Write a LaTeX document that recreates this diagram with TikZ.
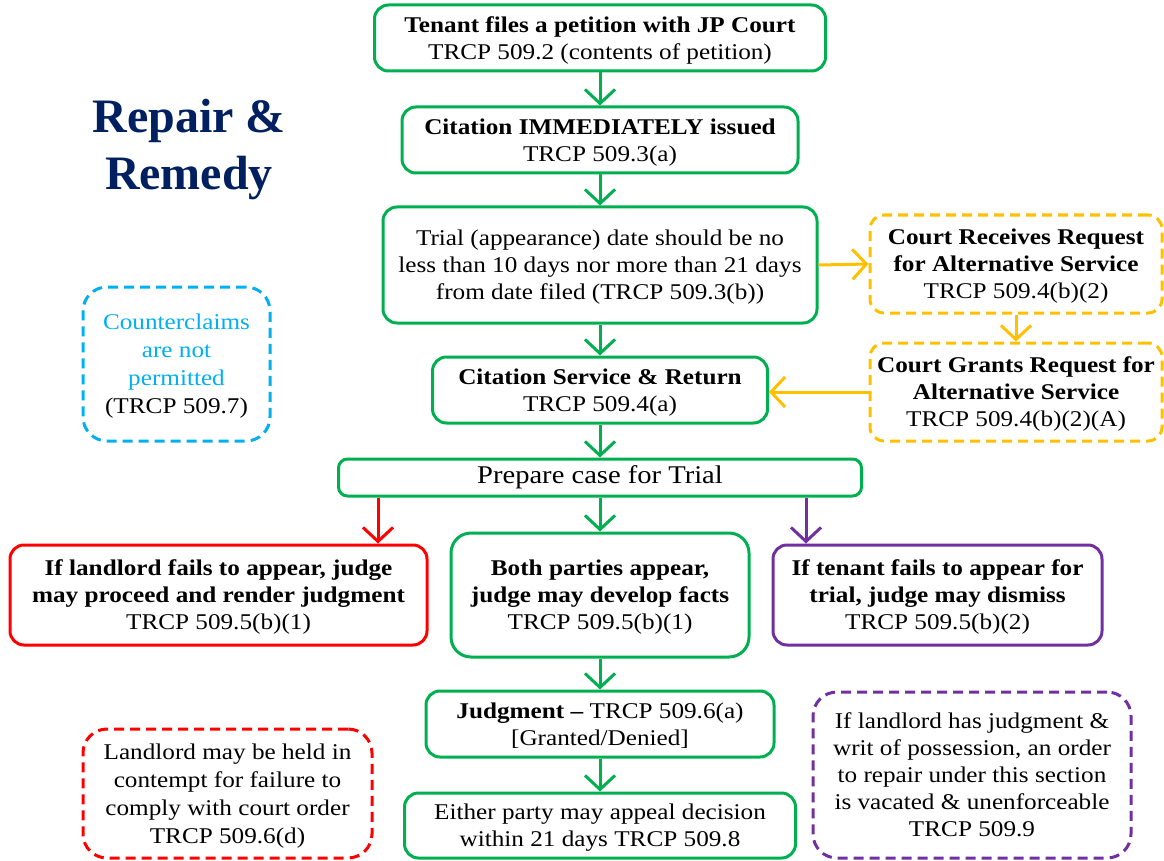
\documentclass[tikz,border=0pt]{standalone}
\usepackage{fontspec}
\setmainfont{Liberation Serif}[FakeStretch=1.12]
\newfontfamily\titlefont{Liberation Serif}
\usepackage{tikz}
\usetikzlibrary{arrows.meta,positioning}
\definecolor{flowGreen}{HTML}{00B050}
\definecolor{flowRed}{HTML}{FF0000}
\definecolor{flowPurple}{HTML}{7030A0}
\definecolor{flowYellow}{HTML}{FFC000}
\definecolor{flowBlue}{HTML}{00B0F0}
\definecolor{flowNavy}{HTML}{002060}
\tikzset{%
  >={Straight Barb[length=14pt,width=30pt]},
  % Specifications for style of nodes:
         base/.style = {rectangle, rounded corners=14pt, line width=3pt,
                        inner sep=0pt, align=center, text depth=-5pt,
                        font=\fontsize{22.5}{27}\selectfont},
     stepGreen/.style = {base, draw=flowGreen},
       stepRed/.style = {base, draw=flowRed},
    stepPurple/.style = {base, draw=flowPurple},
      noteDash/.style = {base, dash pattern=on 10pt off 6pt},
  % Specifications for style of connectors:
      flowLine/.style = {->, line width=3pt},
}

\begin{document}
\begin{tikzpicture}[x=1pt, y=-1pt]
  \useasboundingbox (0,0) rectangle (1164,861);
  % Title
  \node (title) [align=center, text=flowNavy,
    font=\titlefont\bfseries\fontsize{48}{57}\selectfont] at (189,150)
    {Repair \&\\Remedy};
  % Specification of nodes (position, etc.)
  \node (petition) [stepGreen, minimum width=451, minimum height=66] at (600,38)
    {\textbf{Tenant files a petition with JP Court}\\TRCP 509.2 (contents of petition)};
  \node (citation) [stepGreen, minimum width=396, minimum height=66] at (600,140)
    {\textbf{Citation IMMEDIATELY issued}\\TRCP 509.3(a)};
  \node (trialDate) [stepGreen, minimum width=434, minimum height=116] at (600,265)
    {Trial (appearance) date should be no\\less than 10 days nor more than 21 days\\from date filed (TRCP 509.3(b))};
  \node (service) [stepGreen, minimum width=335, minimum height=66] at (600,390)
    {\textbf{Citation Service \& Return}\\TRCP 509.4(a)};
  \node (prepare) [stepGreen, rounded corners=9pt, minimum width=523, minimum height=37,
    text depth={}, font=\fontsize{25.5}{30}\selectfont] at (600,477.5)
    {Prepare case for Trial};
  \node (landlordFails) [stepRed, minimum width=417, minimum height=100] at (218.5,595)
    {\textbf{If landlord fails to appear, judge}\\\textbf{may proceed and render judgment}\\TRCP 509.5(b)(1)};
  \node (bothAppear) [stepGreen, rounded corners=20pt, minimum width=298, minimum height=124] at (600,595)
    {\textbf{Both parties appear,}\\\textbf{judge may develop facts}\\TRCP 509.5(b)(1)};
  \node (tenantFails) [stepPurple, minimum width=329, minimum height=100] at (937.5,595)
    {\textbf{If tenant fails to appear for}\\\textbf{trial, judge may dismiss}\\TRCP 509.5(b)(2)};
  \node (judgment) [stepGreen, minimum width=348, minimum height=66] at (600,724)
    {\textbf{Judgment --} TRCP 509.6(a)\\{[}Granted/Denied]};
  \node (appeal) [stepGreen, minimum width=391, minimum height=65] at (600,825.5)
    {Either party may appeal decision\\within 21 days TRCP 509.8};
  % Side notes
  \node (altRequest) [noteDash, draw=flowYellow, minimum width=292, minimum height=98] at (1016,264)
    {\textbf{Court Receives Request}\\\textbf{for Alternative Service}\\TRCP 509.4(b)(2)};
  \node (altGrant) [noteDash, draw=flowYellow, minimum width=292, minimum height=98] at (1016,392)
    {\textbf{Court Grants Request for}\\\textbf{Alternative Service}\\TRCP 509.4(b)(2)(A)};
  \node (counterclaims) [noteDash, draw=flowBlue, rounded corners=24pt, minimum width=187, minimum height=154,
    font=\fontsize{22.5}{28}\selectfont] at (176.5,364)
    {\textcolor{flowBlue}{Counterclaims}\\\textcolor{flowBlue}{are not}\\\textcolor{flowBlue}{permitted}\\(TRCP 509.7)};
  \node (contempt) [noteDash, draw=flowRed, rounded corners=24pt, minimum width=289, minimum height=129,
    font=\fontsize{22.5}{28}\selectfont] at (227.5,793.5)
    {Landlord may be held in\\contempt for failure to\\comply with court order\\TRCP 509.6(d)};
  \node (vacated) [noteDash, draw=flowPurple, rounded corners=24pt, minimum width=318, minimum height=166] at (972,775)
    {If landlord has judgment \&\\writ of possession, an order\\to repair under this section\\is vacated \& unenforceable\\TRCP 509.9};
  % Specification of lines between nodes specified above
  \draw[flowLine, flowGreen] (petition) -- (citation);
  \draw[flowLine, flowGreen] (citation) -- (trialDate);
  \draw[flowLine, flowGreen] (trialDate) -- (service);
  \draw[flowLine, flowGreen] (service) -- (prepare);
  \draw[flowLine, flowGreen] (prepare) -- (bothAppear);
  \draw[flowLine, flowGreen] (bothAppear) -- (judgment);
  \draw[flowLine, flowGreen] (judgment) -- (appeal);
  \draw[flowLine, flowRed] ([xshift=-222pt]prepare.south) -- ([xshift=-222pt]prepare.south |- landlordFails.north);
  \draw[flowLine, flowPurple] ([xshift=206pt]prepare.south) -- ([xshift=206pt]prepare.south |- tenantFails.north);
  \draw[flowLine, flowYellow] (trialDate.east) -- (altRequest.west);
  \draw[flowLine, flowYellow] (altRequest) -- (altGrant);
  \draw[flowLine, flowYellow] (altGrant.west) -- (altGrant.west -| service.east);
\end{tikzpicture}
\end{document}
